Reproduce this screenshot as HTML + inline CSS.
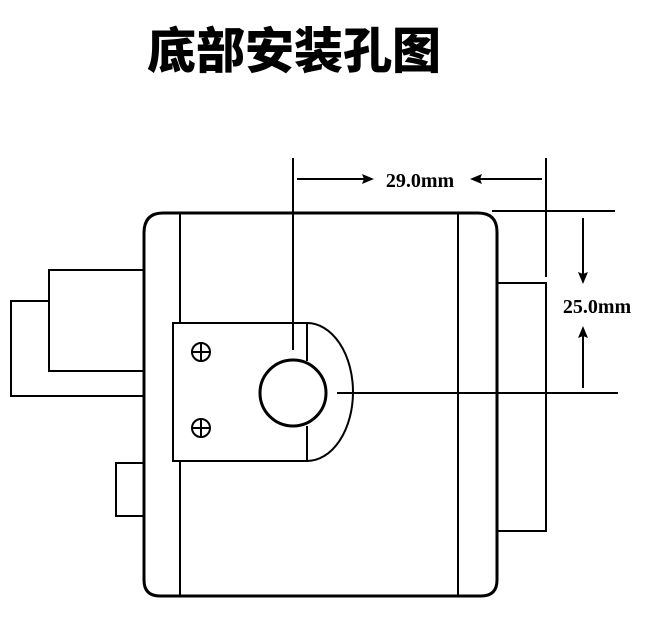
<!DOCTYPE html>
<html><head><meta charset="utf-8"><style>
html,body{margin:0;padding:0;background:#fff;}
svg{display:block;}
</style></head><body>
<svg width="652" height="620" viewBox="0 0 652 620" xmlns="http://www.w3.org/2000/svg">
<text x="294" y="68" text-anchor="middle" font-family="'Noto Sans CJK SC','WenQuanYi Zen Hei',sans-serif" font-weight="900" font-size="49" fill="#000">底部安装孔图</text>
<g fill="none" stroke="#000">
  <path d="M163 213 H478 Q497 213 497 232 V580 Q497 596 481 596 H160 Q144 596 144 580 V233 Q144 213 163 213 Z" stroke-width="3"/>
  <line x1="180" y1="213" x2="180" y2="323" stroke-width="2"/>
  <line x1="180" y1="461" x2="180" y2="596" stroke-width="2"/>
  <line x1="458" y1="213" x2="458" y2="596" stroke-width="2"/>
  <path d="M144 270 H49 V371 H144" stroke-width="2"/>
  <path d="M49 301 H11 V396 H144" stroke-width="2"/>
  <path d="M144 463 H116 V516 H144" stroke-width="2"/>
  <path d="M497 283 H546 V531 H497" stroke-width="2"/>
  <path d="M307 323 H173 V461 H307" stroke-width="2"/>
  <path d="M307 323 A46 69 0 0 1 307 461" stroke-width="2"/>
  <line x1="307" y1="323" x2="307" y2="361" stroke-width="2"/>
  <line x1="307" y1="426" x2="307" y2="461" stroke-width="2"/>
  <circle cx="293" cy="393" r="33" stroke-width="3"/>
  <circle cx="201" cy="352" r="9" stroke-width="2"/>
  <line x1="192" y1="352" x2="210" y2="352" stroke-width="2"/>
  <line x1="201" y1="343" x2="201" y2="361" stroke-width="2"/>
  <circle cx="201" cy="428" r="9" stroke-width="2"/>
  <line x1="192" y1="428" x2="210" y2="428" stroke-width="2"/>
  <line x1="201" y1="419" x2="201" y2="437" stroke-width="2"/>
  <line x1="293" y1="158" x2="293" y2="350" stroke-width="2"/>
  <line x1="546" y1="158" x2="546" y2="277" stroke-width="2"/>
  <line x1="337" y1="393" x2="618" y2="393" stroke-width="2"/>
  <line x1="492" y1="211" x2="615" y2="211" stroke-width="2"/>
  <line x1="297" y1="179" x2="368" y2="179" stroke-width="2"/>
  <line x1="476" y1="179" x2="542" y2="179" stroke-width="2"/>
  <line x1="583" y1="218" x2="583" y2="278" stroke-width="2"/>
  <line x1="583" y1="332" x2="583" y2="388" stroke-width="2"/>
</g>
<g fill="#000">
  <polygon points="374,179 362,174 364,179 362,184"/>
  <polygon points="470,179 482,174 480,179 482,184"/>
  <polygon points="583,284 578,272 583,274 588,272"/>
  <polygon points="583,326 578,338 583,336 588,338"/>
</g>
<text x="420" y="187" text-anchor="middle" font-family="'Liberation Serif',serif" font-weight="bold" font-size="20" fill="#000">29.0mm</text>
<text x="597" y="313" text-anchor="middle" font-family="'Liberation Serif',serif" font-weight="bold" font-size="20" fill="#000">25.0mm</text>
</svg>
</body></html>
